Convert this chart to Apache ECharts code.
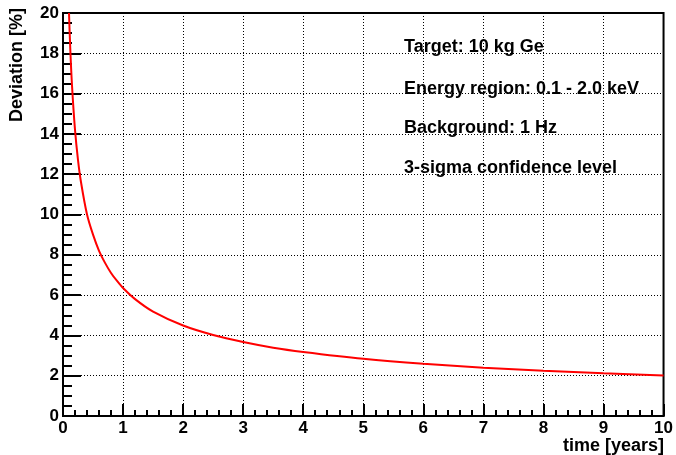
<!DOCTYPE html>
<html>
<head>
<meta charset="utf-8">
<script src="https://cdn.jsdelivr.net/npm/echarts@6/dist/echarts.min.js"></script>
<style>
  html, body { margin: 0; padding: 0; background: #fff; }
  #chart { width: 676px; height: 455px; }
</style>
</head>
<body>
<div id="chart"></div>
<script>
// values
const timeYears = [0.1, 0.12, 0.15, 0.2, 0.25, 0.3, 0.4, 0.5, 0.6, 0.7, 0.8, 0.9, 1.0,
                   1.2, 1.5, 2.0, 2.5, 3.0, 3.5, 4.0, 5.0, 6.0, 7.0, 8.0, 9.0, 10.0];
const deviationPct = [20.0, 18.3, 16.4, 14.2, 12.7, 11.6, 10.0, 9.0, 8.2, 7.6, 7.1, 6.7, 6.35,
                      5.8, 5.18, 4.49, 4.02, 3.67, 3.39, 3.18, 2.84, 2.59, 2.40, 2.25, 2.12, 2.01];
const infoLines = ["Target: 10 kg Ge", "Energy region: 0.1 - 2.0 keV",
                   "Background: 1 Hz", "3-sigma confidence level"];

const font = "'Liberation Sans', Arial, sans-serif";
const myChart = echarts.init(document.getElementById("chart"));

const option = {
    animation: false,
    grid: {
        left: 63, right: 12, top: 13, bottom: 39,
        show: true, borderColor: "#000", borderWidth: 2
    },
    xAxis: {
        type: "value",
        min: 0, max: 10, interval: 1,
        axisLine: { show: true, lineStyle: { color: "#000", width: 2 } },
        axisTick: { show: true, inside: true, length: 12, lineStyle: { color: "#000", width: 2 } },
        minorTick: { show: true, splitNumber: 5, length: 6, lineStyle: { color: "#000", width: 2 } },
        axisLabel: { color: "#000", fontFamily: font, fontWeight: "bold", fontSize: 17, margin: 4 },
        splitLine: { show: true, lineStyle: { color: "#000", type: [1, 2], width: 1 } }
    },
    yAxis: {
        type: "value",
        min: 0, max: 20, interval: 2,
        axisLine: { show: true, lineStyle: { color: "#000", width: 2 } },
        axisTick: { show: true, inside: true, length: 18, lineStyle: { color: "#000", width: 2 } },
        minorTick: { show: true, splitNumber: 4, length: 9, lineStyle: { color: "#000", width: 2 } },
        axisLabel: { color: "#000", fontFamily: font, fontWeight: "bold", fontSize: 17, margin: 4 },
        splitLine: { show: true, lineStyle: { color: "#000", type: [1, 2], width: 1 } }
    },
    series: [{
        type: "line",
        data: timeYears.map((t, i) => [t, deviationPct[i]]),
        smooth: 0.3,
        symbol: "none",
        lineStyle: { color: "#ff0000", width: 2 }
    }],
    graphic: [
        {
            type: "text", x: 17, y: 65, rotation: Math.PI / 2,
            style: { text: "Deviation [%]", fill: "#000", font: "bold 18px " + font,
                     align: "center", verticalAlign: "middle" }
        },
        {
            type: "text", x: 664, y: 446,
            style: { text: "time [years]", fill: "#000", font: "bold 18px " + font,
                     align: "right", verticalAlign: "middle" }
        }
    ].concat(infoLines.map((s, i) => ({
        type: "text", x: 404, y: [47, 89, 128, 168][i],
        style: { text: s, fill: "#000", font: "bold 18px " + font,
                 align: "left", verticalAlign: "middle" }
    })))
};
myChart.setOption(option);
</script>
</body>
</html>
